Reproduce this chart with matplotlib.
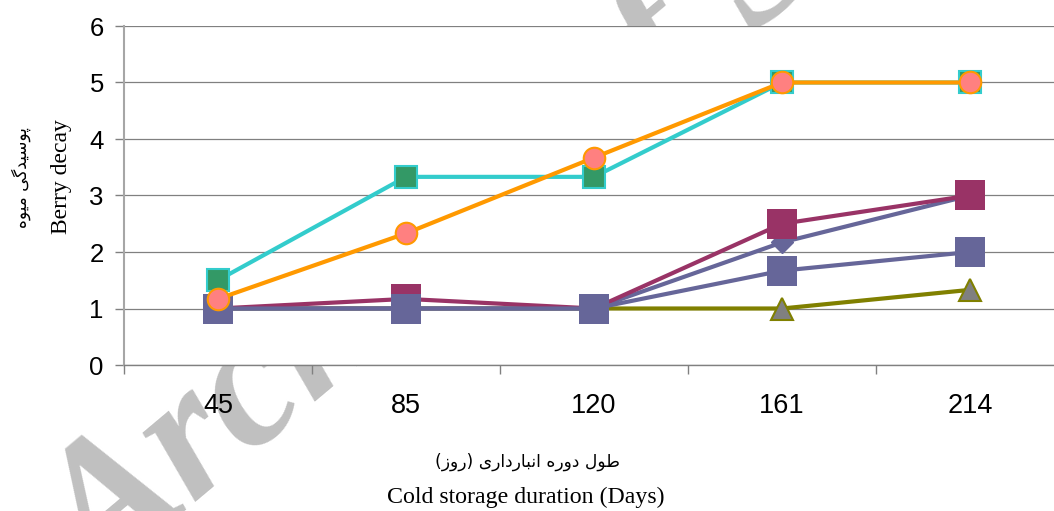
import matplotlib
matplotlib.use("Agg")
import matplotlib.pyplot as plt
from matplotlib.ticker import FixedLocator

# Storage durations (days) and berry decay scores per treatment
days = ["45", "85", "120", "161", "214"]
decay_olive = [1.0, 1.0, 1.0, 1.0, 1.33]
decay_maroon = [1.0, 1.17, 1.0, 2.5, 3.0]
decay_diamond = [1.0, 1.0, 1.0, 2.17, 3.0]
decay_slate = [1.0, 1.0, 1.0, 1.67, 2.0]
decay_cyan = [1.5, 3.33, 3.33, 5.0, 5.0]
decay_orange = [1.17, 2.33, 3.67, 5.0, 5.0]
y_ticks = [0, 1, 2, 3, 4, 5, 6]

# Persian labels written in visual order with contextual glyph forms
ylabel_fa = "\uFEE9\uFEEE\uFBFF\uFEE3 \uFBFD\uFB94\uFEAA\uFBFF\uFEB3\uFEEE\uFB58"
xlabel_fa = ("(\uFEAF\uFEED\uFEAD) \uFBFC\uFEAD\uFE8D\uFEA9\uFEAD\uFE8E\uFE92\uFEE7\uFE8D "
             "\uFEE9\uFEAD\uFEED\uFEA9 \uFEDD\uFEEE\uFEC3")

W, H = 1054, 511
fig = plt.figure(figsize=(W / 100, H / 100), dpi=100)
fig.patch.set_facecolor("white")

# background watermark
fig.text(100 / W, 1 - 590 / H, "Archive of SID", rotation=40, rotation_mode="anchor",
         ha="left", va="baseline", fontsize=135, color="#c0c0c0",
         family="Liberation Serif", fontweight="bold", fontstyle="italic", zorder=-5)

left, right, bottom, top = 124, 1064, 365, 26
ax = fig.add_axes([left / W, 1 - bottom / H, (right - left) / W, (bottom - top) / H])
ax.set_facecolor("white")

x = list(range(len(days)))
lw = 3
ax.plot(x, decay_olive, color="#808000", lw=lw, marker="^", ms=15.5,
        mfc="#808080", mec="#808000", mew=1.5, zorder=3)
ax.plot(x, decay_diamond, color="#666699", lw=lw, marker="D", ms=11,
        mfc="#666699", mec="#666699", zorder=4)
ax.plot(x, decay_maroon, color="#993366", lw=lw, marker="s", ms=21,
        mfc="#993366", mec="#993366", mew=0, zorder=5)
ax.plot(x, decay_slate, color="#666699", lw=lw, marker="s", ms=21,
        mfc="#666699", mec="#666699", mew=0, zorder=6)
ax.plot(x, decay_cyan, color="#33CCCC", lw=lw, marker="s", ms=15.5,
        mfc="#339966", mec="#33CCCC", mew=1.5, zorder=7)
ax.plot(x, decay_orange, color="#FF9900", lw=lw, marker="o", ms=15.5,
        mfc="#FF8080", mec="#FF9900", mew=1.5, zorder=8)

ax.set_xlim(-0.5, len(days) - 0.5)
ax.set_ylim(0, 6)
ax.set_yticks(y_ticks)
ax.set_yticklabels([str(v) for v in y_ticks], family="Liberation Sans", fontsize=18.5)
ax.set_xticks(x)
ax.set_xticklabels(days, family="Liberation Sans", fontsize=19.5)
ax.xaxis.set_minor_locator(FixedLocator([i - 0.5 for i in range(len(days) + 1)]))
ax.tick_params(axis="x", which="major", length=0, pad=20)
ax.tick_params(axis="x", which="minor", length=6.5, width=1, color="#808080", direction="out")
ax.tick_params(axis="y", which="major", length=6.5, width=1, color="#808080", pad=8)

ax.grid(axis="y", color="#808080", lw=0.9, zorder=0)
ax.set_axisbelow(True)
for side in ["top", "right"]:
    ax.spines[side].set_visible(False)
ax.spines["left"].set_color("#a6a6a6")
ax.spines["left"].set_linewidth(1.5)
ax.spines["bottom"].set_color("#808080")
ax.spines["bottom"].set_linewidth(1.0)

# axis titles
fig.text(62 / W, 1 - 177 / H, "Berry decay", rotation=90, ha="center", va="center",
         family="Liberation Serif", fontsize=17)
fig.text(21 / W, 1 - 178 / H, ylabel_fa, rotation=90, ha="center", va="center",
         family="DejaVu Sans", fontsize=12.2)
fig.text(527 / W, 1 - 462 / H, xlabel_fa, ha="center", va="center",
         family="DejaVu Sans", fontsize=12.3)
fig.text(526 / W, 1 - 497 / H, "Cold storage duration (Days)", ha="center", va="center",
         family="Liberation Serif", fontsize=17.2)

fig.savefig("out.png", dpi=100)
